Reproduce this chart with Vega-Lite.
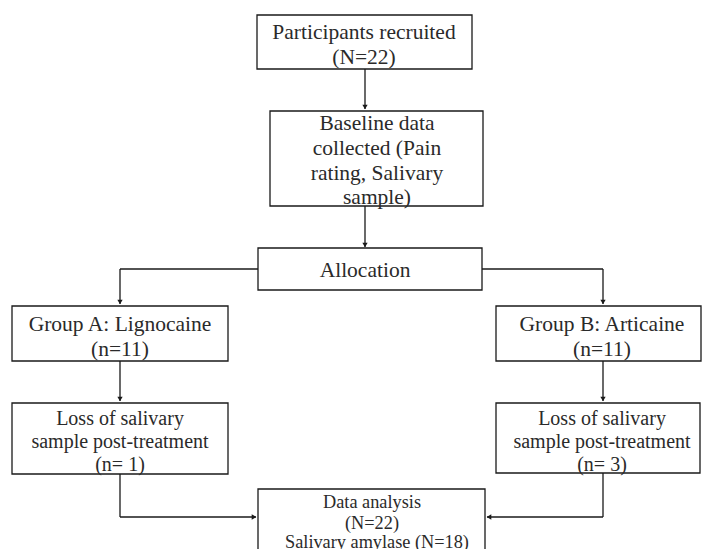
{
  "$schema": "https://vega.github.io/schema/vega-lite/v6.json",
  "width": 702,
  "height": 549,
  "autosize": {"type": "none"},
  "padding": 0,
  "background": "white",
  "config": {"view": {"stroke": null}},
  "datasets": {
    "boxes": [
      {"box": "recruited", "x1": 257, "x2": 472, "y1": 15, "y2": 69},
      {"box": "baseline", "x1": 270, "x2": 483, "y1": 111, "y2": 206},
      {"box": "allocation", "x1": 258, "x2": 482, "y1": 248, "y2": 290},
      {"box": "groupA", "x1": 12, "x2": 228, "y1": 306, "y2": 361},
      {"box": "groupB", "x1": 496, "x2": 701, "y1": 306, "y2": 361},
      {"box": "lossA", "x1": 12, "x2": 228, "y1": 403, "y2": 474},
      {"box": "lossB", "x1": 496, "x2": 700, "y1": 403, "y2": 473},
      {"box": "analysis", "x1": 258, "x2": 485, "y1": 489, "y2": 570}
    ],
    "lines": [
      {"x1": 365, "y1": 69, "x2": 365, "y2": 109},
      {"x1": 365, "y1": 206, "x2": 365, "y2": 247},
      {"x1": 258, "y1": 269, "x2": 120, "y2": 269},
      {"x1": 120, "y1": 269, "x2": 120, "y2": 304},
      {"x1": 482, "y1": 269, "x2": 603, "y2": 269},
      {"x1": 603, "y1": 269, "x2": 603, "y2": 304},
      {"x1": 120, "y1": 361, "x2": 120, "y2": 401},
      {"x1": 603, "y1": 361, "x2": 603, "y2": 401},
      {"x1": 120, "y1": 474, "x2": 120, "y2": 517},
      {"x1": 120, "y1": 517, "x2": 256, "y2": 517},
      {"x1": 603, "y1": 473, "x2": 603, "y2": 517},
      {"x1": 603, "y1": 517, "x2": 487, "y2": 517}
    ],
    "arrows": [
      {"x": 365, "y": 107, "dir": "down"},
      {"x": 365, "y": 245, "dir": "down"},
      {"x": 120, "y": 302, "dir": "down"},
      {"x": 603, "y": 302, "dir": "down"},
      {"x": 120, "y": 399, "dir": "down"},
      {"x": 603, "y": 399, "dir": "down"},
      {"x": 254, "y": 517, "dir": "right"},
      {"x": 489, "y": 517, "dir": "left"}
    ],
    "labels": [
      {"x": 364, "y": 32, "kind": "main", "text": "Participants recruited"},
      {"x": 364, "y": 57, "kind": "main", "text": "(N=22)"},
      {"x": 377, "y": 123, "kind": "main", "text": "Baseline data"},
      {"x": 377, "y": 148, "kind": "main", "text": "collected (Pain"},
      {"x": 377, "y": 173, "kind": "main", "text": "rating, Salivary"},
      {"x": 377, "y": 197, "kind": "main", "text": "sample)"},
      {"x": 365, "y": 270, "kind": "main", "text": "Allocation"},
      {"x": 120, "y": 324, "kind": "main", "text": "Group A: Lignocaine"},
      {"x": 120, "y": 349, "kind": "main", "text": "(n=11)"},
      {"x": 602, "y": 324, "kind": "main", "text": "Group B: Articaine"},
      {"x": 602, "y": 349, "kind": "main", "text": "(n=11)"},
      {"x": 120, "y": 418, "kind": "loss", "text": "Loss of salivary"},
      {"x": 120, "y": 441, "kind": "loss", "text": "sample post-treatment"},
      {"x": 120, "y": 464, "kind": "loss", "text": "(n= 1)"},
      {"x": 602, "y": 418, "kind": "loss", "text": "Loss of salivary"},
      {"x": 602, "y": 441, "kind": "loss", "text": "sample post-treatment"},
      {"x": 602, "y": 464, "kind": "loss", "text": "(n= 3)"},
      {"x": 372, "y": 502, "kind": "small", "text": "Data analysis"},
      {"x": 372, "y": 523, "kind": "small", "text": "(N=22)"},
      {"x": 377, "y": 542, "kind": "small", "text": "Salivary amylase (N=18)"}
    ]
  },
  "layer": [
    {
      "data": {"name": "boxes"},
      "mark": {"type": "rect", "fill": "white", "stroke": "#1a1a1a", "strokeWidth": 1.3, "clip": true},
      "encoding": {
        "x": {"field": "x1", "type": "quantitative", "scale": {"domain": [0, 702], "nice": false, "zero": false}, "axis": null},
        "x2": {"field": "x2"},
        "y": {"field": "y1", "type": "quantitative", "scale": {"domain": [0, 549], "nice": false, "zero": false, "reverse": true}, "axis": null},
        "y2": {"field": "y2"}
      }
    },
    {
      "data": {"name": "lines"},
      "mark": {"type": "rule", "stroke": "#1a1a1a", "strokeWidth": 1.3},
      "encoding": {
        "x": {"field": "x1", "type": "quantitative"},
        "x2": {"field": "x2"},
        "y": {"field": "y1", "type": "quantitative"},
        "y2": {"field": "y2"}
      }
    },
    {
      "data": {"name": "arrows"},
      "mark": {"type": "point", "filled": true, "color": "#1a1a1a", "size": 28, "opacity": 1},
      "encoding": {
        "x": {"field": "x", "type": "quantitative"},
        "y": {"field": "y", "type": "quantitative"},
        "shape": {"field": "dir", "type": "nominal", "scale": {"domain": ["down", "right", "left"], "range": ["triangle-down", "triangle-right", "triangle-left"]}, "legend": null}
      }
    },
    {
      "data": {"name": "labels"},
      "transform": [{"filter": "datum.kind === 'main'"}],
      "mark": {"type": "text", "font": "'Liberation Serif', 'DejaVu Serif', serif", "fontSize": 21.5, "dy": 1, "color": "#2a2a2a", "align": "center", "baseline": "middle"},
      "encoding": {
        "x": {"field": "x", "type": "quantitative"},
        "y": {"field": "y", "type": "quantitative"},
        "text": {"field": "text"}
      }
    },
    {
      "data": {"name": "labels"},
      "transform": [{"filter": "datum.kind === 'loss'"}],
      "mark": {"type": "text", "font": "'Liberation Serif', 'DejaVu Serif', serif", "fontSize": 20, "dy": 1, "color": "#2a2a2a", "align": "center", "baseline": "middle"},
      "encoding": {
        "x": {"field": "x", "type": "quantitative"},
        "y": {"field": "y", "type": "quantitative"},
        "text": {"field": "text"}
      }
    },
    {
      "data": {"name": "labels"},
      "transform": [{"filter": "datum.kind === 'small'"}],
      "mark": {"type": "text", "font": "'Liberation Serif', 'DejaVu Serif', serif", "fontSize": 18.3, "dy": 1, "color": "#2a2a2a", "align": "center", "baseline": "middle"},
      "encoding": {
        "x": {"field": "x", "type": "quantitative"},
        "y": {"field": "y", "type": "quantitative"},
        "text": {"field": "text"}
      }
    }
  ]
}
